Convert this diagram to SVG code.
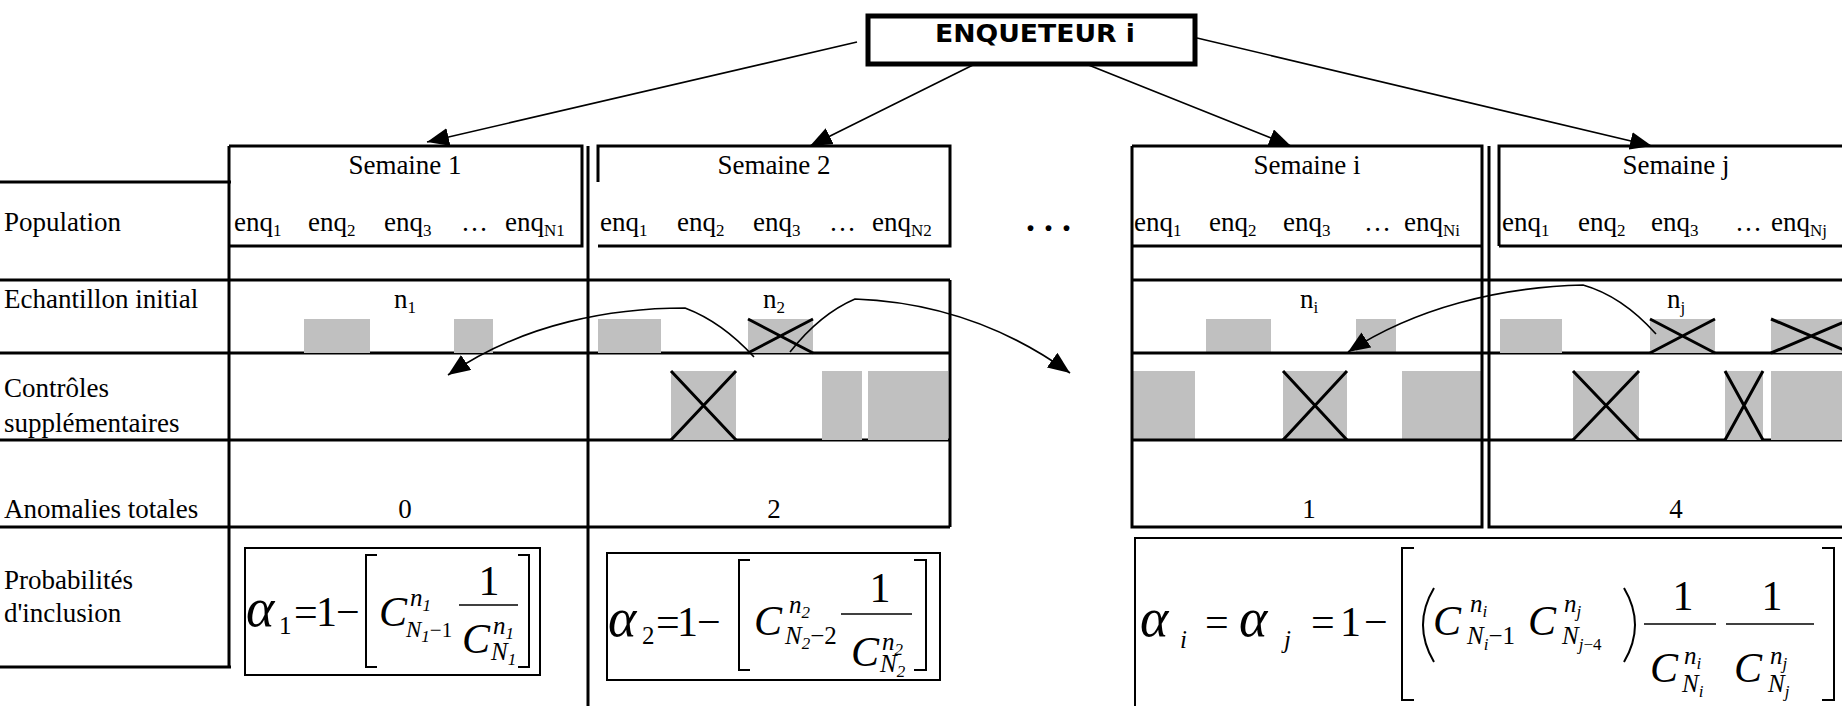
<svg xmlns="http://www.w3.org/2000/svg" width="1842" height="706" viewBox="0 0 1842 706">
<style>
text { font-family: "Liberation Serif", "Times New Roman", serif; fill: #000; }
.t { font-size: 27px; }
.sb { font-size: 17px; }
.c { text-anchor: middle; }
.ln { stroke: #000; stroke-width: 3; fill: none; }
.g { fill: #c0c0c0; stroke: none; }
.x { stroke: #000; stroke-width: 3; }
.fb { fill: none; stroke: #000; stroke-width: 2; }
.br { fill: none; stroke: #000; stroke-width: 2; }
.m { font-size: 42px; }
.a { font-size: 54px; font-style: italic; }
.i { font-style: italic; }
.s { font-size: 25px; }
.ss { font-size: 17px; }
.bar { stroke: #000; stroke-width: 1.5; }
.cv { fill: none; stroke: #000; stroke-width: 1.6; }
.ar { stroke: #000; stroke-width: 1.6; fill: none; }
.hd { font-family: "DejaVu Sans", sans-serif; font-weight: bold; font-size: 25px; }
</style>
<defs>
<marker id="ah" markerUnits="userSpaceOnUse" markerWidth="24" markerHeight="18" refX="22" refY="9" orient="auto">
<path d="M0,0 L22,9 L0,18 z" fill="#000"/>
</marker>
</defs>

<g id="enqueteur">
<rect x="868" y="16" width="327" height="48" fill="#fff" stroke="#000" stroke-width="5"/>
<text class="hd" x="935" y="42" textLength="200" lengthAdjust="spacingAndGlyphs">ENQUETEUR i</text>
</g>

<g id="row-labels">
<path class="ln" d="M0,182 H231 M229,146 V667 M0,667 H231"/>
<text class="t" x="4" y="231">Population</text>
<text class="t" x="4" y="308">Echantillon initial</text>
<text class="t" x="4" y="397">Contrôles</text>
<text class="t" x="4" y="432">supplémentaires</text>
<text class="t" x="4" y="518">Anomalies totales</text>
<text class="t" x="4" y="589">Probabilités</text>
<text class="t" x="4" y="622">d'inclusion</text>
</g>

<g id="grid-left">
<path class="ln" d="M0,280 H950 M0,353 H950 M0,440 H950 M0,527 H950 M588,146 V706"/>
</g>

<g id="semaine-1">
<rect class="g" x="304" y="319" width="66" height="34"/>
<rect class="g" x="454" y="319" width="39" height="34"/>
<path class="ln" d="M229,146 H582 V246 H229"/>
<text class="t c" x="405" y="174">Semaine 1</text>
<text class="t" x="234" y="231">enq<tspan class="sb" dy="5">1</tspan></text>
<text class="t" x="308" y="231">enq<tspan class="sb" dy="5">2</tspan></text>
<text class="t" x="384" y="231">enq<tspan class="sb" dy="5">3</tspan></text>
<text class="t" x="461" y="231">…</text>
<text class="t" x="505" y="231">enq<tspan class="sb" dy="5">N1</tspan></text>
<text class="t c" x="405" y="308">n<tspan class="sb" dy="5">1</tspan></text>
<text class="t c" x="405" y="518">0</text>
</g>

<g id="semaine-2">
<rect class="g" x="598" y="319" width="63" height="34"/>
<rect class="g" x="748" y="319" width="65" height="34"/>
<path class="x" d="M748,319 L813,353 M748,353 L813,319"/>
<rect class="g" x="671" y="371" width="65" height="69"/>
<path class="x" d="M671,371 L736,440 M671,440 L736,371"/>
<rect class="g" x="822" y="371" width="40" height="69"/>
<rect class="g" x="868" y="371" width="80" height="69"/>
<path class="ln" d="M598,182 V146 H950 V246 H598 M950,280 V527"/>
<text class="t c" x="774" y="174">Semaine 2</text>
<text class="t" x="600" y="231">enq<tspan class="sb" dy="5">1</tspan></text>
<text class="t" x="677" y="231">enq<tspan class="sb" dy="5">2</tspan></text>
<text class="t" x="753" y="231">enq<tspan class="sb" dy="5">3</tspan></text>
<text class="t" x="829" y="231">…</text>
<text class="t" x="872" y="231">enq<tspan class="sb" dy="5">N2</tspan></text>
<text class="t c" x="774" y="308">n<tspan class="sb" dy="5">2</tspan></text>
<text class="t c" x="774" y="518">2</text>
</g>

<g id="ellipsis">
<text x="1026" y="231" style="font-size:36px;font-weight:bold">. . .</text>
</g>

<g id="semaine-i">
<rect class="g" x="1206" y="319" width="65" height="34"/>
<rect class="g" x="1356" y="319" width="40" height="34"/>
<rect class="g" x="1132" y="371" width="63" height="69"/>
<rect class="g" x="1283" y="371" width="64" height="69"/>
<path class="x" d="M1283,371 L1347,440 M1283,440 L1347,371"/>
<rect class="g" x="1402" y="371" width="80" height="69"/>
<path class="ln" d="M1132,146 V527 H1482 V146 H1132 M1132,246 H1482 M1132,280 H1842 M1132,353 H1842 M1132,440 H1842"/>
<text class="t c" x="1307" y="174">Semaine i</text>
<text class="t" x="1134" y="231">enq<tspan class="sb" dy="5">1</tspan></text>
<text class="t" x="1209" y="231">enq<tspan class="sb" dy="5">2</tspan></text>
<text class="t" x="1283" y="231">enq<tspan class="sb" dy="5">3</tspan></text>
<text class="t" x="1364" y="231">…</text>
<text class="t" x="1404" y="231">enq<tspan class="sb" dy="5">Ni</tspan></text>
<text class="t c" x="1309" y="308">n<tspan class="sb" dy="5">i</tspan></text>
<text class="t c" x="1309" y="518">1</text>
</g>

<g id="semaine-j">
<rect class="g" x="1500" y="319" width="62" height="34"/>
<rect class="g" x="1650" y="319" width="65" height="34"/>
<path class="x" d="M1650,319 L1715,353 M1650,353 L1715,319"/>
<rect class="g" x="1771" y="319" width="80" height="34"/>
<path class="x" d="M1771,319 L1851,353 M1771,353 L1851,319"/>
<rect class="g" x="1573" y="371" width="66" height="69"/>
<path class="x" d="M1573,371 L1639,440 M1573,440 L1639,371"/>
<rect class="g" x="1725" y="371" width="38" height="69"/>
<path class="x" d="M1725,371 L1763,440 M1725,440 L1763,371"/>
<rect class="g" x="1771" y="371" width="75" height="69"/>
<path class="ln" d="M1489,146 V527 H1842 M1499,246 V146 H1842 M1499,246 H1842"/>
<text class="t c" x="1676" y="174">Semaine j</text>
<text class="t" x="1502" y="231">enq<tspan class="sb" dy="5">1</tspan></text>
<text class="t" x="1578" y="231">enq<tspan class="sb" dy="5">2</tspan></text>
<text class="t" x="1651" y="231">enq<tspan class="sb" dy="5">3</tspan></text>
<text class="t" x="1735" y="231">…</text>
<text class="t" x="1771" y="231">enq<tspan class="sb" dy="5">Nj</tspan></text>
<text class="t c" x="1676" y="308">n<tspan class="sb" dy="5">j</tspan></text>
<text class="t c" x="1676" y="518">4</text>
</g>

<g id="formula-1">
<rect class="fb" x="245" y="548" width="295" height="127"/>
<text class="a" x="246" y="626">α</text>
<text class="s" x="279" y="634">1</text>
<text class="m" x="294" y="626">=</text>
<text class="m" x="316" y="626">1</text>
<text class="m" x="336" y="626">−</text>
<path class="br" d="M377,555 H366 V667 H377"/>
<text class="m i" x="379" y="626">C</text>
<text class="s i" x="410" y="606">n<tspan class="ss" dy="5">1</tspan></text>
<text class="s i" x="406" y="637" style="font-size:23px">N<tspan class="ss" dy="5">1</tspan><tspan dy="-5" font-style="normal" style="font-size:21px">−1</tspan></text>
<text class="m c" x="489" y="595">1</text>
<line class="bar" x1="459" y1="605" x2="518" y2="605"/>
<text class="m i" x="462" y="653">C</text>
<text class="s i" x="493" y="634">n<tspan class="ss" dy="5">1</tspan></text>
<text class="s i" x="491" y="660">N<tspan class="ss" dy="5">1</tspan></text>
<path class="br" d="M518,555 H529 V667 H518"/>
</g>

<g id="formula-2">
<rect class="fb" x="607" y="553" width="333" height="127"/>
<text class="a" x="608" y="636">α</text>
<text class="s" x="642" y="644">2</text>
<text class="m" x="656" y="636">=</text>
<text class="m" x="677" y="636">1</text>
<text class="m" x="697" y="636">−</text>
<path class="br" d="M750,560 H739 V670 H750"/>
<text class="m i" x="754" y="635">C</text>
<text class="s i" x="789" y="613">n<tspan class="ss" dy="5">2</tspan></text>
<text class="s i" x="785" y="644">N<tspan class="ss" dy="5">2</tspan><tspan dy="-5" font-style="normal">−2</tspan></text>
<text class="m c" x="880" y="602">1</text>
<line class="bar" x1="841" y1="614" x2="912" y2="614"/>
<text class="m i" x="851" y="666">C</text>
<text class="s i" x="882" y="650">n<tspan class="ss" dy="5">2</tspan></text>
<text class="s i" x="880" y="672">N<tspan class="ss" dy="5">2</tspan></text>
<path class="br" d="M914,560 H926 V670 H914"/>
</g>

<g id="formula-ij">
<rect class="fb" x="1135" y="538" width="720" height="200"/>
<text class="a" x="1140" y="636">α</text>
<text class="s i" x="1180" y="648">i</text>
<text class="m" x="1205" y="636">=</text>
<text class="a" x="1239" y="636">α</text>
<text class="s i" x="1284" y="648">j</text>
<text class="m" x="1311" y="636">=</text>
<text class="m" x="1340" y="636">1</text>
<text class="m" x="1364" y="636">−</text>
<path class="br" d="M1414,548 H1402 V700 H1414"/>
<path class="br" d="M1434,588 Q1412,625 1434,662"/>
<text class="m i" x="1433" y="635">C</text>
<text class="s i" x="1470" y="612">n<tspan class="ss" dy="5">i</tspan></text>
<text class="s i" x="1467" y="644">N<tspan class="ss" dy="6">i</tspan><tspan dy="-6" font-style="normal">−1</tspan></text>
<text class="m i" x="1528" y="635">C</text>
<text class="s i" x="1564" y="612">n<tspan class="ss" dy="5">j</tspan></text>
<text class="s i" x="1562" y="644">N<tspan class="ss" dy="6">j</tspan><tspan class="ss" font-style="normal">−4</tspan></text>
<path class="br" d="M1624,588 Q1646,625 1624,662"/>
<text class="m c" x="1683" y="610">1</text>
<line class="bar" x1="1644" y1="624" x2="1716" y2="624"/>
<text class="m i" x="1650" y="682">C</text>
<text class="s i" x="1684" y="664">n<tspan class="ss" dy="5">i</tspan></text>
<text class="s i" x="1682" y="692">N<tspan class="ss" dy="5">i</tspan></text>
<text class="m c" x="1772" y="610">1</text>
<line class="bar" x1="1726" y1="624" x2="1814" y2="624"/>
<text class="m i" x="1734" y="682">C</text>
<text class="s i" x="1770" y="664">n<tspan class="ss" dy="5">j</tspan></text>
<text class="s i" x="1768" y="692">N<tspan class="ss" dy="5">j</tspan></text>
<path class="br" d="M1822,548 H1834 V700 H1822"/>
</g>

<g id="connectors">
<path class="ar" d="M857,42 L427,142" marker-end="url(#ah)"/>
<path class="ar" d="M975,64 L810,146" marker-end="url(#ah)"/>
<path class="ar" d="M1086,64 L1291,146" marker-end="url(#ah)"/>
<path class="ar" d="M1197,38 L1652,146" marker-end="url(#ah)"/>
<path class="cv" d="M754,357 Q722,322 685,308 C615,308 525,322 448,375" marker-end="url(#ah)"/>
<path class="cv" d="M790,352 Q820,314 855,299 C935,302 1005,326 1070,373" marker-end="url(#ah)"/>
<path class="cv" d="M1656,334 Q1622,296 1583,285 C1500,287 1415,308 1348,352" marker-end="url(#ah)"/>
</g>
</svg>
